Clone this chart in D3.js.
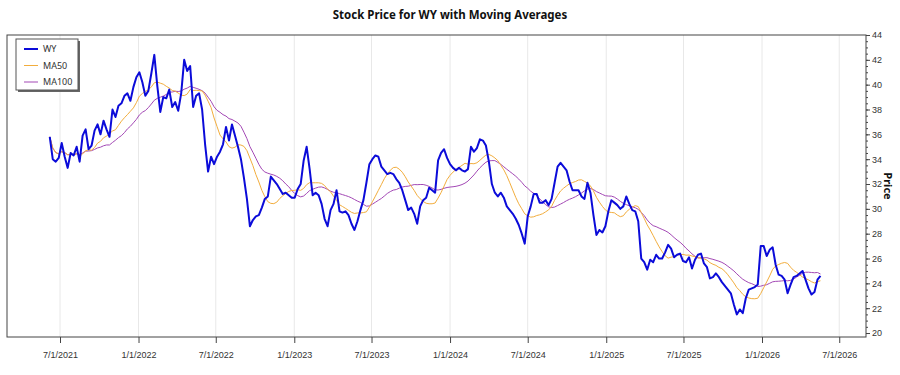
<!DOCTYPE html>
<html>
<head>
<meta charset="utf-8">
<script src="https://cdn.jsdelivr.net/npm/d3@7"></script>
<style>
  body { margin: 0; background: #fff; }
  svg { display: block; font-family: 'Noto Sans', 'Open Sans', sans-serif; }
</style>
</head>
<body>
<svg id="chart" width="900" height="375"></svg>
<script>
// weekly closes, first week starting 2021-06-07
const startDate = '2021-06-07'
const price = [
  35.8, 34.0, 33.8, 34.1, 35.3, 34.2, 33.3, 34.5, 34.3, 35.0,
  33.8, 35.9, 36.4, 34.8, 35.1, 36.3, 36.8, 36.0, 37.1, 36.4,
  35.8, 38.0, 37.4, 38.3, 38.5, 39.1, 39.3, 38.7, 39.8, 40.6,
  41.0, 40.2, 39.1, 39.5, 40.9, 42.4, 39.9, 37.8, 39.0, 38.9,
  39.6, 38.2, 38.6, 37.9, 39.3, 42.0, 41.1, 41.5, 38.2, 39.1,
  39.3, 38.0, 35.2, 33.0, 34.2, 33.6, 34.2, 34.6, 35.2, 36.6,
  35.5, 36.8, 35.9, 35.0, 34.0, 32.5, 30.8, 28.6, 29.1, 29.4,
  29.5, 30.1, 30.8, 31.0, 32.6, 32.3, 32.0, 31.6, 31.2, 31.3,
  31.1, 30.9, 30.9, 31.6, 32.0, 33.9, 35.0, 33.2, 31.1, 31.3,
  31.1, 30.4, 29.2, 28.6, 29.9, 30.4, 31.5, 29.8, 29.7, 29.8,
  29.5, 28.8, 28.3, 29.0, 29.9, 30.7, 32.1, 33.6, 34.0, 34.3,
  34.2, 33.4, 33.1, 32.8, 32.9, 32.8, 32.4, 32.1, 31.5, 30.7,
  29.9, 30.1, 29.6, 28.8, 30.2, 30.7, 30.9, 31.7, 31.5, 31.3,
  33.9, 34.5, 34.8, 34.1, 33.6, 33.3, 33.1, 33.3, 33.1, 33.0,
  33.2, 35.0, 34.6, 34.9, 35.6, 35.5, 35.1, 33.8, 32.0, 31.3,
  31.0, 31.3, 30.9, 30.2, 29.9, 29.6, 29.2, 28.7, 28.0, 27.2,
  29.4, 30.2, 31.2, 31.2, 30.5, 30.5, 30.7, 30.3, 30.8, 32.1,
  33.4, 33.7, 33.4, 33.1, 32.2, 31.5, 31.5, 31.5, 31.0, 30.8,
  32.1, 31.3, 29.5, 27.9, 28.3, 28.1, 28.6, 29.8, 30.7, 30.5,
  30.3, 30.0, 30.2, 31.0, 30.4, 29.9, 29.8, 29.0, 26.0, 25.7,
  25.1, 25.9, 25.7, 26.3, 26.0, 26.0, 26.5, 27.1, 26.8, 26.1,
  26.3, 26.4, 25.8, 25.7, 26.1, 25.2, 25.9, 26.3, 26.4, 25.6,
  25.3, 24.4, 24.5, 24.8, 24.5, 24.1, 23.8, 23.5, 23.2, 22.3,
  21.5, 21.9, 21.6, 22.8, 23.5, 23.6, 23.7, 23.9, 27.0, 27.0,
  26.2, 26.7, 26.9, 25.5, 24.7, 24.6, 24.3, 23.2, 23.9, 24.5,
  24.6, 24.8, 25.0, 24.3, 23.6, 23.1, 23.3, 24.3, 24.6
]
const xTicks = ['2021-07-01', '2022-01-01', '2022-07-01', '2023-01-01', '2023-07-01', '2024-01-01',
  '2024-07-01', '2025-01-01', '2025-07-01', '2026-01-01', '2026-07-01']
const yTicks = [20, 22, 24, 26, 28, 30, 32, 34, 36, 38, 40, 42, 44]
const seriesNames = ['WY', 'MA50', 'MA100']
const maWindows = [10, 20] // weeks, ~50 and ~100 trading days

const colors = { WY: '#0b0bd9', MA50: '#f2ad3d', MA100: '#a348b5' }

const parse = d3.timeParse('%Y-%m-%d')
const start = parse(startDate)
const dates = price.map((_, i) => d3.timeWeek.offset(start, i))

const rolling = (values, n) => values.map((_, i) => d3.mean(values.slice(Math.max(0, i - n + 1), i + 1)))
const series = [
  { name: seriesNames[0], values: price, width: 2 },
  { name: seriesNames[1], values: rolling(price, maWindows[0]), width: 1 },
  { name: seriesNames[2], values: rolling(price, maWindows[1]), width: 1 }
]

const plot = { left: 7, right: 866, top: 35, bottom: 337 }

const x = d3.scaleTime()
  .domain([parse('2021-07-01'), parse('2026-01-01')])
  .range([60, 762])
const y = d3.scaleLinear()
  .domain([19.68, 44])
  .range([plot.bottom, plot.top])

const svg = d3.select('#chart')

svg.append('text')
  .attr('x', 450)
  .attr('y', 19)
  .attr('text-anchor', 'middle')
  .style('font-size', '11.5px')
  .style('font-weight', 'bold')
  .style('fill', '#111')
  .text('Stock Price for WY with Moving Averages')

// vertical grid
svg.append('g')
  .selectAll('line')
  .data(xTicks.map(parse))
  .join('line')
  .attr('x1', d => x(d)).attr('x2', d => x(d))
  .attr('y1', plot.top).attr('y2', plot.bottom)
  .attr('stroke', '#e8e8e8')
  .attr('stroke-width', 1)

// x axis
const xAxis = svg.append('g')
  .attr('transform', `translate(0,${plot.bottom})`)
  .call(d3.axisBottom(x)
    .tickValues(xTicks.map(parse))
    .tickFormat(d3.timeFormat('%-m/%-d/%Y'))
    .tickSize(6)
    .tickPadding(9))
xAxis.select('.domain').remove()
xAxis.selectAll('line').attr('stroke', '#444')
xAxis.selectAll('text').style('font-size', '9px').style('fill', '#333')

// y axis on the right, with minor ticks
const yMinor = svg.append('g')
  .attr('transform', `translate(${plot.right},0)`)
  .call(d3.axisRight(y).tickValues(d3.range(20, 44.01, 0.5)).tickSize(2).tickFormat(''))
yMinor.select('.domain').remove()
yMinor.selectAll('line').attr('stroke', '#444')

const yAxis = svg.append('g')
  .attr('transform', `translate(${plot.right},0)`)
  .call(d3.axisRight(y).tickValues(yTicks).tickSize(4).tickPadding(2))
yAxis.select('.domain').remove()
yAxis.selectAll('line').attr('stroke', '#444')
yAxis.selectAll('text').style('font-size', '9px').style('fill', '#333')

svg.append('text')
  .attr('transform', `translate(884,${(plot.top + plot.bottom) / 2}) rotate(90)`)
  .attr('text-anchor', 'middle')
  .style('font-size', '11px')
  .style('font-weight', 'bold')
  .style('fill', '#111')
  .text('Price')

// lines, drawn back to front
const line = d3.line()
  .x((d, i) => x(dates[i]))
  .y(d => y(d))

svg.append('g')
  .selectAll('path')
  .data(series.slice().reverse())
  .join('path')
  .attr('d', d => line(d.values))
  .attr('fill', 'none')
  .attr('stroke', d => colors[d.name])
  .attr('stroke-width', d => d.width)
  .attr('stroke-linejoin', 'round')

// frame
svg.append('rect')
  .attr('x', plot.left)
  .attr('y', plot.top)
  .attr('width', plot.right - plot.left)
  .attr('height', plot.bottom - plot.top)
  .attr('fill', 'none')
  .attr('stroke', '#444')
  .attr('stroke-width', 1)

// legend
const legend = svg.append('g').attr('transform', 'translate(16,39)')
legend.append('rect')
  .attr('x', 2).attr('y', 2)
  .attr('width', 62).attr('height', 51)
  .attr('fill', '#666')
legend.append('rect')
  .attr('width', 62).attr('height', 51)
  .attr('fill', '#fff')
  .attr('stroke', '#555')

const items = legend.selectAll('g.item')
  .data(series)
  .join('g')
  .attr('class', 'item')
  .attr('transform', (d, i) => `translate(8,${10 + i * 16.5})`)
items.append('line')
  .attr('x1', 0).attr('x2', 14)
  .attr('stroke', d => colors[d.name])
  .attr('stroke-width', d => d.width)
items.append('text')
  .attr('x', 19)
  .attr('dy', '0.35em')
  .style('font-size', '9px')
  .style('fill', '#333')
  .text(d => d.name)
</script>
</body>
</html>
